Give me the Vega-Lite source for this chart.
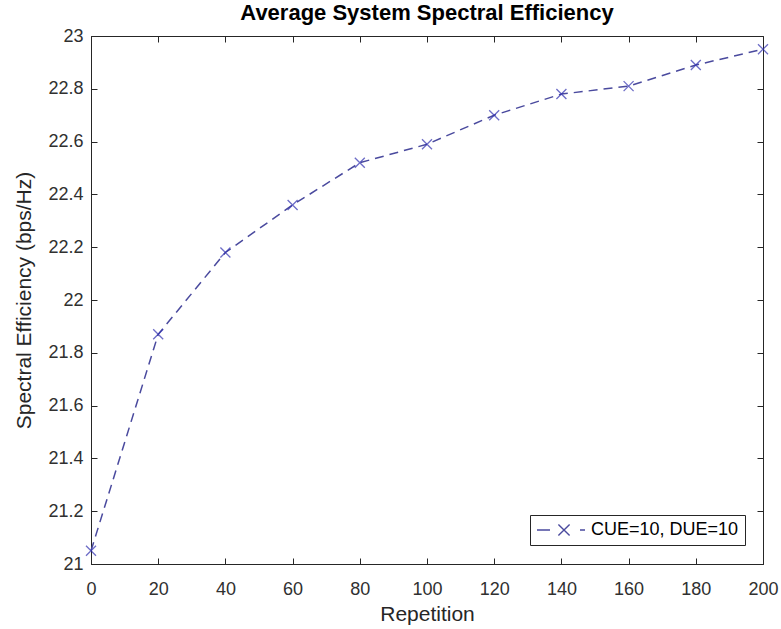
{
  "$schema": "https://vega.github.io/schema/vega-lite/v6.json",
  "width": 672,
  "height": 528,
  "autosize": "none",
  "padding": {"left": 91, "top": 36, "right": 18, "bottom": 65},
  "background": "white",
  "config": {
    "view": {"stroke": "#262626", "strokeWidth": 1},
    "font": "Liberation Sans",
    "axis": {"grid": false, "domainColor": "#262626", "tickColor": "#262626", "labelColor": "#303030", "titleColor": "#262626", "labelFont": "Liberation Sans", "titleFont": "Liberation Sans", "labelFontSize": 18, "titleFontSize": 21, "titleFontWeight": "normal", "tickSize": -6, "labelPadding": 14, "labelFlush": false}
  },
  "title": {"text": "Average System Spectral Efficiency", "fontSize": 22, "fontWeight": "bold", "color": "#000000", "font": "Liberation Sans", "anchor": "middle", "offset": 2},
  "data": {"values": [
    {"rep": 0, "se": 21.05, "series": "CUE=10, DUE=10"},
    {"rep": 20, "se": 21.87, "series": "CUE=10, DUE=10"},
    {"rep": 40, "se": 22.18, "series": "CUE=10, DUE=10"},
    {"rep": 60, "se": 22.36, "series": "CUE=10, DUE=10"},
    {"rep": 80, "se": 22.52, "series": "CUE=10, DUE=10"},
    {"rep": 100, "se": 22.59, "series": "CUE=10, DUE=10"},
    {"rep": 120, "se": 22.70, "series": "CUE=10, DUE=10"},
    {"rep": 140, "se": 22.78, "series": "CUE=10, DUE=10"},
    {"rep": 160, "se": 22.81, "series": "CUE=10, DUE=10"},
    {"rep": 180, "se": 22.89, "series": "CUE=10, DUE=10"},
    {"rep": 200, "se": 22.95, "series": "CUE=10, DUE=10"}
  ]},
  "layer": [
    {
      "mark": {"type": "line", "strokeDash": [9, 6], "strokeWidth": 1.5, "clip": false},
      "encoding": {
        "x": {"field": "rep", "type": "quantitative", "scale": {"domain": [0, 200], "nice": false}, "axis": {"orient": "bottom", "values": [0,20,40,60,80,100,120,140,160,180,200], "title": "Repetition", "titlePadding": 5, "labelPadding": 22, "labelFlush": false}},
        "y": {"field": "se", "type": "quantitative", "scale": {"domain": [21, 23], "nice": false, "zero": false}, "axis": {"orient": "left", "values": [21,21.2,21.4,21.6,21.8,22,22.2,22.4,22.6,22.8,23], "format": "~g", "title": "Spectral Efficiency (bps/Hz)", "titlePadding": 13, "labelFlush": false}},
        "color": {"field": "series", "type": "nominal", "scale": {"range": ["#4a4a9e"]}, "legend": {
          "orient": "none", "legendX": 439, "legendY": 479, "title": null,
          "strokeColor": "#262626", "fillColor": "white", "padding": 6,
          "symbolType": "M-6.75,0H-3.5M-1.4,-1.4L1.4,1.4M-1.4,1.4L1.4,-1.4M4,0H5.25",
          "symbolSize": 64, "symbolStrokeWidth": 1.4, "symbolStrokeColor": "#3c3ca8", "symbolFillColor": "transparent",
          "symbolOffset": 19, "labelOffset": 18,
          "labelFontSize": 18, "labelColor": "#000000", "labelFont": "Liberation Sans"
        }}
      }
    },
    {
      "mark": {"type": "point", "shape": "M-1,-1L1,1M-1,1L1,-1", "filled": false, "size": 100, "strokeWidth": 1.3, "color": "#3030b0", "clip": false},
      "encoding": {
        "x": {"field": "rep", "type": "quantitative", "axis": {"orient": "top", "values": [0,20,40,60,80,100,120,140,160,180,200], "labels": false, "title": null, "domain": false}},
        "y": {"field": "se", "type": "quantitative", "axis": {"orient": "right", "values": [21,21.2,21.4,21.6,21.8,22,22.2,22.4,22.6,22.8,23], "labels": false, "title": null, "domain": false}}
      }
    }
  ],
  "resolve": {"axis": {"x": "independent", "y": "independent"}}
}
